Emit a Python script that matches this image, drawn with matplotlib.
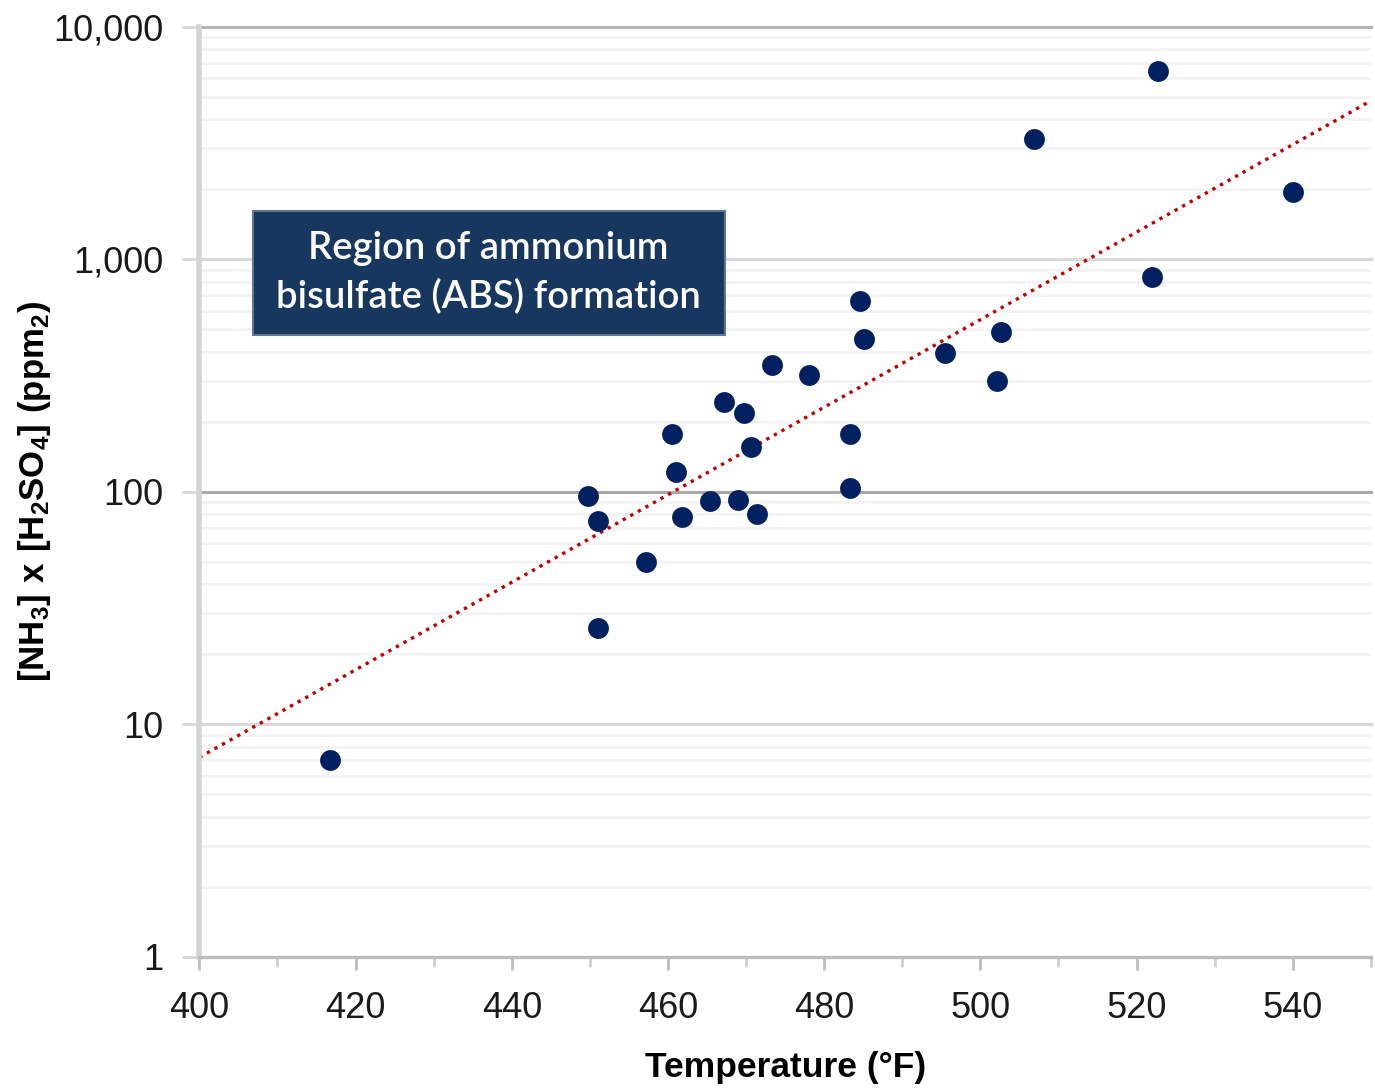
import matplotlib
matplotlib.use("Agg")
import matplotlib.pyplot as plt
import numpy as np
from matplotlib.patches import Rectangle
from matplotlib.ticker import FixedLocator, FuncFormatter, NullFormatter

# temperature (F) vs NH3 x H2SO4 product (ppm^2)
temp = [416.7, 449.8, 451.0, 451.0, 457.2, 460.5, 461.0, 461.8, 465.4, 467.2,
        469.0, 469.7, 470.6, 471.4, 473.3, 478.0, 483.3, 483.3, 484.6, 485.1,
        495.5, 502.1, 502.6, 506.9, 522.0, 522.7, 540.0]
product = [7.0, 96, 75, 26, 50, 177, 122, 78, 91, 243,
           92, 218, 156, 80, 351, 318, 177, 104, 661, 454,
           395, 299, 486, 3290, 837, 6440, 1940]

# exponential trendline, given by its values at both ends of the axis
trend_temp = [400, 550]
trend_product = [7.2, 4800]

x_ticks = [400, 420, 440, 460, 480, 500, 520, 540]
y_ticks = [1, 10, 100, 1000, 10000]
y_tick_labels = ["1", "10", "100", "1,000", "10,000"]
box_text = "Region of ammonium\nbisulfate (ABS) formation"

plt.rcParams['font.family'] = ['Liberation Sans', 'DejaVu Sans']
plt.rcParams['mathtext.fontset'] = 'custom'
plt.rcParams['mathtext.rm'] = 'Liberation Sans'
plt.rcParams['mathtext.bf'] = 'Liberation Sans:bold'

fig = plt.figure(figsize=(13.75, 10.88), dpi=100)
ax = fig.add_axes([0.145, 0.1207, 0.852, 0.8548])

ax.set_xlim(400, 550)
ax.set_yscale('log')
ax.set_ylim(1, 10000)

# faint minor grid, then the decade lines
for dec in [1, 10, 100, 1000]:
    for m in range(2, 10):
        ax.axhline(dec * m, color='#f3f3f3', lw=2, zorder=0)
grid_cols = {10: '#d9d9d9', 100: '#a9a9a9', 1000: '#d9d9d9', 10000: '#b5b5b5'}
for yv, c in grid_cols.items():
    ax.axhline(yv, color=c, lw=2.2, zorder=1, clip_on=False)

# straight line in log space between the two end values
tx = np.linspace(trend_temp[0], trend_temp[1], 200)
ty = 10 ** np.interp(tx, trend_temp, np.log10(trend_product))
ax.plot(tx, ty, color='#c00000', lw=2.4, linestyle=(0, (1, 1.6)), zorder=2)

ax.plot(temp, product, 'o', color='#002060', markersize=15,
        markeredgewidth=0, zorder=3)

for s in ['top', 'right']:
    ax.spines[s].set_visible(False)
ax.spines['left'].set_color('#d4d4d4')
ax.spines['left'].set_linewidth(4)
ax.spines['bottom'].set_color('#bdbdbd')
ax.spines['bottom'].set_linewidth(2.4)

ax.xaxis.set_major_locator(FixedLocator(x_ticks))
ax.xaxis.set_minor_locator(FixedLocator(range(410, 551, 20)))
ax.tick_params(axis='x', which='major', length=9, width=2, color='#bdbdbd',
               labelsize=26, pad=16, labelcolor='#1a1a1a')
ax.tick_params(axis='x', which='minor', length=7, width=2, color='#d0d0d0')

ax.yaxis.set_major_locator(FixedLocator(y_ticks))
ax.yaxis.set_major_formatter(FuncFormatter(lambda v, p: y_tick_labels[y_ticks.index(int(round(v)))]))
ax.yaxis.set_minor_formatter(NullFormatter())
ax.tick_params(axis='y', which='major', length=12, width=2.2, color='#d9d9d9',
               labelsize=26, pad=14, labelcolor='#1a1a1a')
ax.tick_params(axis='y', which='minor', length=0)

ax.set_xlabel("Temperature (°F)", fontsize=25.5, fontweight='bold', labelpad=18)
ax.set_ylabel(r"$\mathbf{[NH_3]\ x\ [H_2SO_4]\ (ppm_2)}$", fontsize=25, labelpad=0)

# annotation box
ax.add_patch(Rectangle((0.0457, 0.6685), 0.4029, 0.1333, transform=ax.transAxes,
                       facecolor='#17375e', edgecolor='#5f7894', lw=1.5, zorder=4))
ax.text(0.247, 0.735, box_text, transform=ax.transAxes, ha='center', va='center',
        color='white', fontsize=27.5, family=['Lato', 'DejaVu Sans'],
        fontweight='semibold', linespacing=1.45, zorder=5)

fig.savefig("out.png", dpi=100)
